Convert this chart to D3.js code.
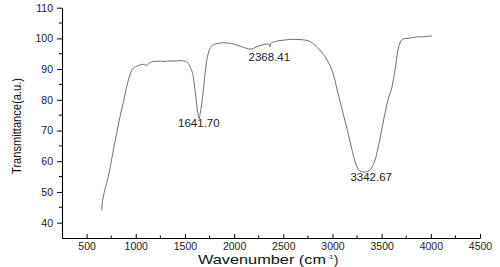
<!DOCTYPE html>
<html>
<head>
<meta charset="utf-8">
<script src="https://cdn.jsdelivr.net/npm/d3@7"></script>
<style>
  html, body { margin: 0; padding: 0; background: #fff; }
  svg { display: block; }
  text { font-family: "Liberation Sans", Arial, sans-serif; }
</style>
</head>
<body>
<script>
// ---- data ----
const wavenumber = [655,660,668,680,704,740,772,805,840,875,908,941,965,1000,1040,1075,1105,1140,1180,1250,1300,1350,1400,1450,1500,1530,1555,1585,1610,1630,1643,1655,1670,1690,1705,1720,1738,1760,1788,1840,1890,1940,1992,2040,2093,2130,2162,2200,2230,2280,2331,2355,2365,2372,2382,2420,2467,2520,2568,2619,2680,2730,2772,2820,2873,2944,3005,3056,3107,3158,3199,3230,3250,3280,3331,3382,3413,3433,3463,3514,3565,3605,3636,3666,3697,3738,3789,3860,3920,3970,4010];
const transmittance = [44.0,46.5,48,50,52.8,58,63.7,69,74.5,79.5,84.3,88.1,90,90.8,91.3,91.6,91.2,92.0,92.5,92.6,92.5,92.7,92.6,92.8,92.6,92.0,90.5,87.5,81,76,73.8,75.5,78.5,84,88.6,92.5,95.2,97,97.9,98.4,98.6,98.5,98.2,97.7,97.1,96.7,96.5,96.8,97.3,97.8,98.2,98.0,97.3,98.4,98.6,99.0,99.3,99.5,99.7,99.7,99.6,99.4,99.0,97.8,96.2,93,88.7,82.2,75.7,69.2,63.7,59.8,58.1,56.8,56.5,57.1,58.8,60.4,64.3,72.5,80,84.2,89.7,96.2,99.2,100,100.1,100.5,100.5,100.7,100.8];
const peakLabels = ["1641.70", "2368.41", "3342.67"];
const peakX = [1641.7, 2368.41, 3342.67];
const peakT = [73.8, 97.3, 56.5];
const xTicks = [500,1000,1500,2000,2500,3000,3500,4000,4500];
const yTicks = [40,50,60,70,80,90,100,110];

// ---- layout ----
const W = 500, H = 267;
const svg = d3.select("body").append("svg").attr("width", W).attr("height", H);
const x = d3.scaleLinear().domain([250, 4500]).range([62, 480]);
const y = d3.scaleLinear().domain([35, 110]).range([238, 7.7]);
const fmt = d3.format("d");

// x axis (ticks inward)
const xAxis = d3.axisBottom(x).tickValues(xTicks).tickFormat(fmt)
  .tickSizeInner(-4).tickSizeOuter(0).tickPadding(4.5);
const gx = svg.append("g").attr("transform", `translate(0,${y(35)})`).call(xAxis);
gx.select(".domain").attr("stroke", "#000").attr("stroke-width", 1.1);
gx.selectAll(".tick line").attr("stroke", "#000");
gx.selectAll(".tick text").attr("font-size", 10.5).attr("fill", "#222")
  .attr("font-family", "'Liberation Sans', Arial, sans-serif");
const xMinor = d3.range(750, 4500, 500);
svg.append("g").selectAll("line").data(xMinor).join("line")
  .attr("x1", d => x(d)).attr("x2", d => x(d))
  .attr("y1", y(35)).attr("y2", y(35) - 2.5).attr("stroke", "#000");

// y axis (ticks outward)
const yAxis = d3.axisLeft(y).tickValues(yTicks).tickFormat(fmt)
  .tickSizeInner(5).tickSizeOuter(0).tickPadding(4);
const gy = svg.append("g").attr("transform", `translate(${x(250)},0)`).call(yAxis);
gy.select(".domain").attr("stroke", "#000").attr("stroke-width", 1.1);
gy.selectAll(".tick line").attr("stroke", "#000");
gy.selectAll(".tick text").attr("font-size", 10.5).attr("fill", "#222")
  .attr("font-family", "'Liberation Sans', Arial, sans-serif");
const yMinor = d3.range(45, 110, 10);
svg.append("g").selectAll("line").data(yMinor).join("line")
  .attr("x1", x(250)).attr("x2", x(250) - 3)
  .attr("y1", d => y(d)).attr("y2", d => y(d)).attr("stroke", "#000");

// curve
const pts = wavenumber.map((w, i) => [w, transmittance[i]]);
const line = d3.line().x(d => x(d[0])).y(d => y(d[1])).curve(d3.curveMonotoneX);
svg.append("path").datum(pts).attr("d", line)
  .attr("fill", "none").attr("stroke", "#555").attr("stroke-width", 0.85);

// peak labels (offsets in px from the peak point)
const labelDx = [0, -1, 5];
const labelDy = [8, 14, 9];
svg.append("g").selectAll("text").data(peakLabels).join("text")
  .attr("x", (d, i) => x(peakX[i]) + labelDx[i])
  .attr("y", (d, i) => y(peakT[i]) + labelDy[i])
  .attr("text-anchor", "middle").attr("font-size", 11.5).attr("fill", "#222")
  .text(d => d);

// axis titles
svg.append("text").attr("x", 198).attr("y", 264.3)
  .attr("font-size", 13).attr("fill", "#111")
  .attr("textLength", 128).attr("lengthAdjust", "spacingAndGlyphs")
  .text("Wavenumber (cm");
svg.append("text").attr("x", 327.5).attr("y", 259)
  .attr("font-size", 6).attr("fill", "#111").text("-1");
svg.append("text").attr("x", 334).attr("y", 264.3)
  .attr("font-size", 13).attr("fill", "#111").text(")");

svg.append("text")
  .attr("transform", `translate(21,126) rotate(-90)`)
  .attr("text-anchor", "middle").attr("font-size", 13).attr("fill", "#111")
  .attr("textLength", 96).attr("lengthAdjust", "spacingAndGlyphs")
  .text("Transmittance(a.u.)");
</script>
</body>
</html>
